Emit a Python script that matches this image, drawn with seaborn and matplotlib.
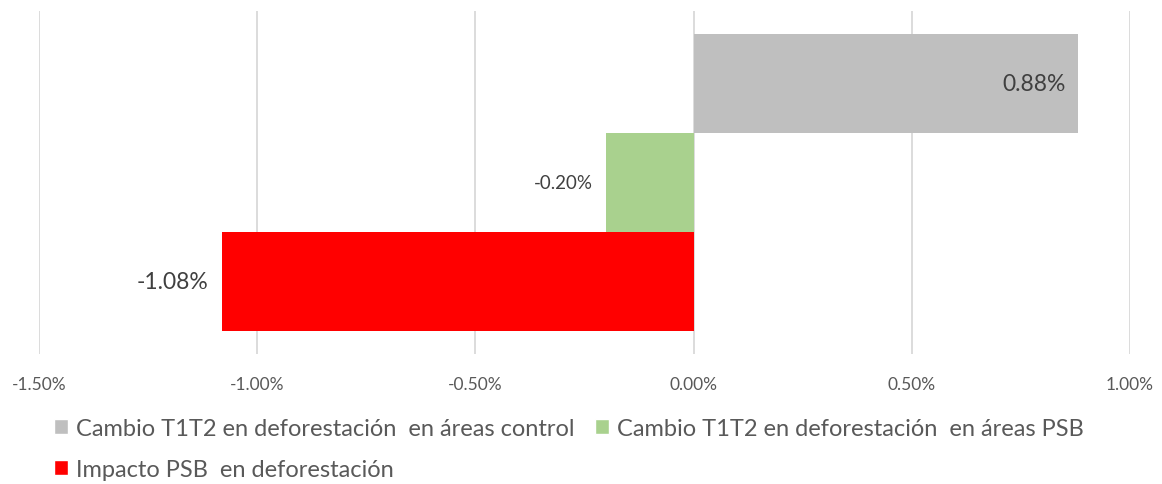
import matplotlib
matplotlib.use("Agg")
import matplotlib.pyplot as plt
import seaborn as sns
import pandas as pd
from matplotlib.patches import Patch
from matplotlib.ticker import FuncFormatter, FixedLocator

series = ["Cambio T1T2 en deforestación  en áreas control",
          "Cambio T1T2 en deforestación  en áreas PSB",
          "Impacto PSB  en deforestación"]
values = [0.88, -0.20, -1.08]
colors = ["#bfbfbf", "#a9d18e", "#ff0000"]
xticks = [-1.5, -1.0, -0.5, 0.0, 0.5, 1.0]

df = pd.DataFrame({"cat": ["T"] * 3, "serie": series, "valor": values})

sns.set_theme(style="white")
plt.rcParams["font.family"] = ["Lato", "DejaVu Sans"]

fig = plt.figure(figsize=(11.62, 4.85), dpi=100)
ax = fig.add_axes([39 / 1162, 1 - 355 / 485, (1130 - 39) / 1162, (355 - 12) / 485])

sns.barplot(data=df, y="cat", x="valor", hue="serie", hue_order=series,
            palette=colors, orient="h", width=0.8, ax=ax, legend=False,
            saturation=1, linewidth=0)

ax.set_xlim(-1.5, 1.0)
half = 0.8 * 343 / 297 / 2
ax.set_ylim(half, -half)
ax.xaxis.set_major_locator(FixedLocator(xticks))
ax.xaxis.set_major_formatter(FuncFormatter(lambda v, p: f"{v:.2f}%"))
ax.grid(axis="x", color="#d9d9d9", linewidth=1.3)
ax.set_axisbelow(True)
for s in ax.spines.values():
    s.set_visible(False)
ax.set_yticks([])
ax.set_xlabel("")
ax.set_ylabel("")
ax.tick_params(axis="x", colors="#595959", labelsize=12.5, length=0, pad=16)

conts = ax.containers
ax.bar_label(conts[0], labels=[f"{values[0]:.2f}%"], label_type="edge",
             padding=-54, color="#404040", fontsize=16.5)
ax.bar_label(conts[1], labels=[f"{values[1]:.2f}%"], label_type="edge",
             padding=10, color="#404040", fontsize=13.5)
ax.bar_label(conts[2], labels=[f"{values[2]:.2f}%"], label_type="edge",
             padding=10, color="#404040", fontsize=16.5)

handles = [Patch(facecolor=c) for c in colors]
order = [0, 2, 1]
leg = fig.legend([handles[i] for i in order], [series[i] for i in order],
                 ncol=2, loc="upper left", bbox_to_anchor=(54 / 1162, 1 - 419 / 485),
                 frameon=False, fontsize=17, handlelength=0.6, handleheight=0.6,
                 handletextpad=0.35, columnspacing=0.85, labelspacing=0.85,
                 labelcolor="#595959", borderaxespad=0, borderpad=0)

fig.savefig("out.png", dpi=100, facecolor="white")
